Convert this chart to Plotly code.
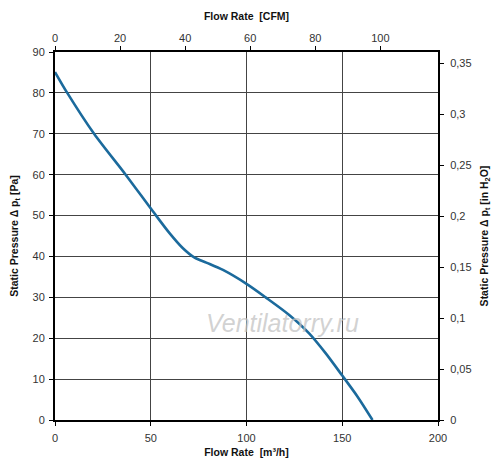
import plotly.graph_objects as go

# fan curve
flow_m3h = [0, 6.4, 20.4, 36.9, 51.0, 59.8, 66.8, 72.9, 79.0, 87.7, 100, 110, 122.3, 132.7, 141.4, 150.1, 158, 165.8]
pressure_pa = [85.1, 80, 70, 60, 51.1, 45.7, 42.0, 39.7, 38.5, 36.7, 33.3, 30, 25.7, 21.2, 16.3, 10.8, 5.7, 0]

cfm_ticks = [0, 20, 40, 60, 80, 100]
inh2o_ticks = [0, 0.05, 0.1, 0.15, 0.2, 0.25, 0.3, 0.35]
inh2o_text = ["0", "0,05", "0,1", "0,15", "0,2", "0,25", "0,3", "0,35"]

M3H_PER_CFM = 1.699
PA_PER_INH2O = 249.089
x_max, y_max = 200, 90

font = "Liberation Sans, Arial, sans-serif"
grid = "#444"

fig = go.Figure()
fig.add_trace(go.Scatter(x=flow_m3h, y=pressure_pa, mode="lines",
                         line=dict(color="#1b6a9c", width=2.6, shape="spline", smoothing=0.8),
                         showlegend=False, hoverinfo="x+y"))
# invisible trace to carry the secondary axes
fig.add_trace(go.Scatter(x=[0], y=[0], xaxis="x2", yaxis="y2", mode="markers",
                         marker=dict(opacity=0), showlegend=False, hoverinfo="skip"))

tick_font = dict(family=font, size=11, color="#333")
title_font = dict(family=font, size=10.5, color="#111")

fig.update_layout(
    width=500, height=473,
    margin=dict(l=55, r=62, t=52, b=53),
    paper_bgcolor="white", plot_bgcolor="white",
    xaxis=dict(range=[0, x_max], tickvals=[0, 50, 100, 150, 200], showgrid=True,
               gridcolor=grid, gridwidth=1, zeroline=False,
               showline=True, linecolor="black", linewidth=2,
               ticks="outside", ticklen=4, tickcolor="black", tickfont=tick_font,
               ticklabelstandoff=3,
               title=dict(text="<b>Flow Rate  [m³/h]</b>", font=title_font, standoff=5)),
    yaxis=dict(range=[0, y_max], dtick=10, showgrid=True, gridcolor=grid, gridwidth=1,
               zeroline=False, showline=True, linecolor="black", linewidth=2,
               ticks="outside", ticklen=4, tickcolor="black", tickfont=tick_font,
               ticklabelstandoff=2,
               title=dict(text="<b>Static Pressure Δ p<sub>t</sub> [Pa]</b>", font=title_font, standoff=12)),
    xaxis2=dict(range=[0, x_max / M3H_PER_CFM], tickvals=cfm_ticks, overlaying="x", side="top",
                showgrid=False, zeroline=False, showline=True, linecolor="black", linewidth=2,
                ticks="outside", ticklen=4, tickcolor="black", tickfont=tick_font,
                title=dict(text="<b>Flow Rate  [CFM]</b>", font=title_font, standoff=9)),
    yaxis2=dict(range=[0, y_max / PA_PER_INH2O], tickvals=inh2o_ticks, ticktext=inh2o_text,
                overlaying="y", side="right", showgrid=False, zeroline=False,
                showline=True, linecolor="black", linewidth=2,
                ticks="outside", ticklen=4, tickcolor="black", tickfont=tick_font,
                ticklabelstandoff=4,
                title=dict(text="<b>Static Pressure Δ p<sub>t</sub> [in H<sub>2</sub>O]</b>",
                           font=title_font, standoff=10)),
    annotations=[dict(text="<i>Ventilatorry.ru</i>", x=0.80, y=0.22, xref="paper", yref="paper",
                      showarrow=False, font=dict(family=font, size=25, color="rgba(195,195,195,0.75)"))],
)

# drop the default page margin so the figure sits at the window's corner
fig.write_html("out.html", config={"displayModeBar": False},
               post_script="document.body.style.margin='0';")
